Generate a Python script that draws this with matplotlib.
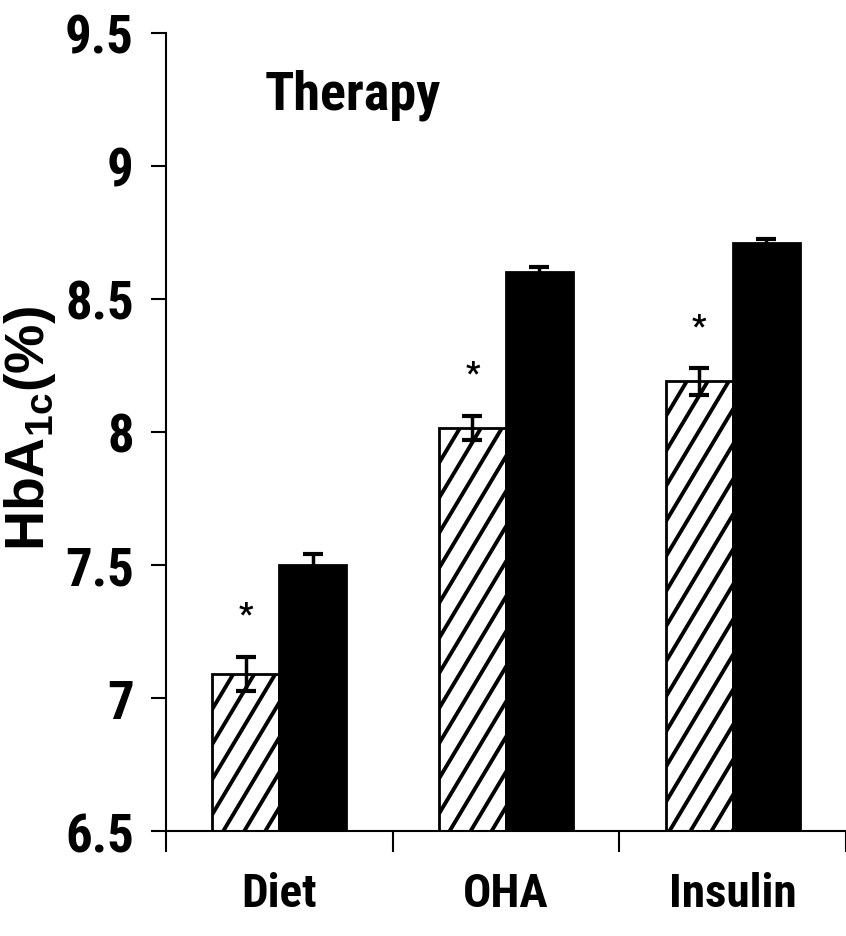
import numpy as np
import matplotlib
matplotlib.use("Agg")
import matplotlib.pyplot as plt
from matplotlib import font_manager
from matplotlib.lines import Line2D

# HbA1c by therapy group: hatched = first group, solid = second group
categories = ["Diet", "OHA", "Insulin"]
hatched_vals = [7.09, 8.015, 8.19]
hatched_err = [0.065, 0.045, 0.05]
solid_vals = [7.50, 8.60, 8.71]
solid_err = [0.04, 0.02, 0.015]
marked = [True, True, True]   # significance stars over the hatched bars
y_ticks = [6.5, 7, 7.5, 8, 8.5, 9, 9.5]
y_ticklabels = ["6.5", "7", "7.5", "8", "8.5", "9", "9.5"]

# prefer a narrow bold face, else plain Arial-metric sans
installed = {f.name for f in font_manager.fontManager.ttflist}
narrow = [n for n in ['Liberation Sans Narrow', 'Roboto Condensed',
                      'Open Sans Condensed', 'DejaVu Sans Condensed'] if n in installed]
if narrow:
    family = narrow[0]
    scale = 1.0
else:
    family = 'Liberation Sans'
    scale = 0.8

plt.rcParams['font.family'] = [family, 'DejaVu Sans']
plt.rcParams['font.weight'] = 'bold'
# axis title is set in a wide face
plt.rcParams['mathtext.fontset'] = 'custom'
plt.rcParams['mathtext.bf'] = 'Liberation Sans:bold'
plt.rcParams['mathtext.rm'] = 'Liberation Sans:bold'

fig = plt.figure(figsize=(8.46, 9.37), dpi=100)
ax = fig.add_axes([0.196, 0.112, 0.804, 0.852])
ax.set_ylim(6.5, 9.5)
ax.set_xlim(-0.5, 2.5)

x = np.arange(len(categories))
w = 0.295
base = 6.5

hbars = ax.bar(x - w / 2, np.array(hatched_vals) - base, w, bottom=base, color='white',
               edgecolor='black', linewidth=2, zorder=2)
ax.bar(x + w / 2, np.array(solid_vals) - base, w, bottom=base, color='black',
       edgecolor='black', linewidth=2, zorder=2)

# steep diagonal hatching, drawn in pixel space and clipped to each bar
step = 21.0     # horizontal spacing of the lines, px
slope = 1.67    # dy/dx in px
for rect in hbars:
    (px0, py0), (px1, py1) = ax.transData.transform(
        [(rect.get_x(), rect.get_y()), (rect.get_x() + rect.get_width(), rect.get_y() + rect.get_height())])
    hgt = py1 - py0
    start = px0 - hgt / slope
    for k in range(int((px1 - start) / step) + 2):
        xs = start + k * step
        ln = Line2D([xs, xs + hgt / slope], [py0, py1], color='black', lw=2.8,
                    transform=None, zorder=2.5)
        ln.set_clip_path(rect)
        fig.add_artist(ln)

ax.errorbar(x - w / 2, hatched_vals, yerr=hatched_err, fmt='none', ecolor='black',
            elinewidth=2.5, capsize=7, capthick=3, zorder=3)
ax.errorbar(x + w / 2, solid_vals, yerr=solid_err, fmt='none', ecolor='black',
            elinewidth=2.5, capsize=7, capthick=3, zorder=3)

for xi, v, e, m in zip(x, hatched_vals, hatched_err, marked):
    if m:
        ax.text(xi - w / 2, v + e + 0.195 - 0.067, "*", ha='center', va='baseline',
                fontsize=23, fontweight='bold')

ax.text(-0.062, 9.214, "Therapy", ha='left', va='baseline', fontsize=39 * scale)

ax.set_yticks(y_ticks)
ax.set_yticklabels(y_ticklabels)
ax.tick_params(axis='y', labelsize=38 * scale, length=11, width=1.5, pad=12)

# boundary ticks between groups, labels centred under each group
ax.set_xticks([-0.5, 0.5, 1.5, 2.5])
ax.set_xticklabels([])
ax.tick_params(axis='x', which='major', length=15, width=1.5)
ax.set_xticks(x, minor=True)
ax.set_xticklabels(categories, minor=True)
ax.tick_params(axis='x', which='minor', length=0, labelsize=34 * scale, pad=29)

ax.spines['top'].set_visible(False)
ax.spines['right'].set_visible(False)
ax.spines['left'].set_linewidth(1.5)
ax.spines['bottom'].set_linewidth(1.5)

ax.set_ylabel(r"$\mathbf{HbA}_{\mathbf{1c}}\mathbf{(\%)}$", fontsize=40)
ax.yaxis.set_label_coords(-0.158, 0.505)

fig.savefig("out.png", dpi=100)
